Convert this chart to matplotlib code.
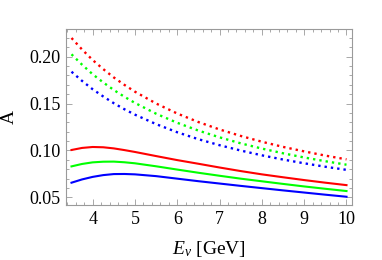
import matplotlib
matplotlib.use("Agg")
import matplotlib.pyplot as plt
from matplotlib.ticker import MultipleLocator

plt.rcParams['font.family'] = ['Liberation Serif', 'DejaVu Serif']
plt.rcParams['mathtext.fontset'] = 'custom'
plt.rcParams['mathtext.rm'] = 'Liberation Serif'
plt.rcParams['mathtext.it'] = 'Liberation Serif:italic'

E = [3.5, 3.75, 4.0, 4.25, 4.5, 4.75, 5.0, 5.5, 6.0, 6.5, 7.0, 7.5, 8.0, 8.5, 9.0, 9.5, 10.0]

red_dot   = [0.2200, 0.2077, 0.1965, 0.1868, 0.1779, 0.1700, 0.1627, 0.1501, 0.1394, 0.1303, 0.1224, 0.1155, 0.1093, 0.1038, 0.0990, 0.0945, 0.0905]
green_dot = [0.2026, 0.1915, 0.1813, 0.1726, 0.1645, 0.1573, 0.1507, 0.1392, 0.1295, 0.1212, 0.1140, 0.1076, 0.1020, 0.0970, 0.0925, 0.0885, 0.0848]
blue_dot  = [0.1840, 0.1742, 0.1653, 0.1576, 0.1504, 0.1440, 0.1382, 0.1281, 0.1194, 0.1120, 0.1056, 0.0999, 0.0948, 0.0903, 0.0863, 0.0826, 0.0793]

red_sol   = [0.1005, 0.1027, 0.1037, 0.1034, 0.1022, 0.1004, 0.0984, 0.0940, 0.0897, 0.0858, 0.0818, 0.0780, 0.0745, 0.0714, 0.0684, 0.0656, 0.0630]
green_sol = [0.0830, 0.0856, 0.0873, 0.0880, 0.0881, 0.0874, 0.0863, 0.0831, 0.0796, 0.0762, 0.0730, 0.0699, 0.0671, 0.0643, 0.0616, 0.0591, 0.0567]
blue_sol  = [0.0656, 0.0691, 0.0718, 0.0737, 0.0748, 0.0749, 0.0745, 0.0726, 0.0699, 0.0672, 0.0647, 0.0622, 0.0598, 0.0574, 0.0551, 0.0528, 0.0506]

xticks = [4, 5, 6, 7, 8, 9, 10]
yticks = [0.05, 0.10, 0.15, 0.20]
ytick_labels = ["0.05", "0.10", "0.15", "0.20"]

fig = plt.figure(figsize=(3.82, 2.60), dpi=100)
ax = fig.add_axes([66/382, 55/260, 286/382, 176/260])

dot = (0, (1, 1.7))
lw_dot = 1.7
lw = 1.5
ax.plot(E, red_dot, color='#ff0000', lw=lw_dot, ls=dot)
ax.plot(E, green_dot, color='#00ff00', lw=lw_dot, ls=dot)
ax.plot(E, blue_dot, color='#0000ff', lw=lw_dot, ls=dot)
ax.plot(E, red_sol, color='#ff0000', lw=lw)
ax.plot(E, green_sol, color='#00ff00', lw=lw)
ax.plot(E, blue_sol, color='#0000ff', lw=lw)

ax.set_xlim(3.37, 10.13)
ax.set_ylim(0.0418, 0.2296)
ax.set_xticks(xticks)
ax.set_yticks(yticks)
ax.set_yticklabels(ytick_labels)
ax.xaxis.set_minor_locator(MultipleLocator(0.2))
ax.yaxis.set_minor_locator(MultipleLocator(0.01))

frame_c = '#9a9a9a'
for s in ax.spines.values():
    s.set_color(frame_c)
    s.set_linewidth(0.8)
ax.tick_params(which='both', direction='in', top=True, right=True, color=frame_c,
               labelsize=13, labelcolor='black', width=0.6)
ax.tick_params(which='major', length=4, pad=4)
ax.tick_params(which='minor', length=2)

ax.set_xlabel(r'$E_\nu$ [GeV]', fontsize=14, labelpad=8)
ax.set_ylabel('A', fontsize=14, labelpad=8)

fig.savefig('out.png', dpi=100)
